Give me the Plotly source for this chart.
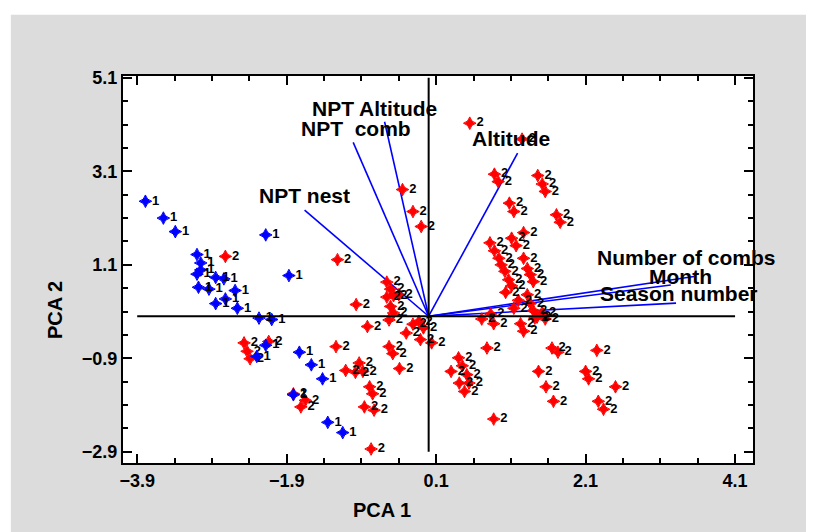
import plotly.graph_objects as go

# ---------------- data ----------------
x_ticks = [-3.9, -1.9, 0.1, 2.1, 4.1]
y_ticks = [-2.9, -0.9, 1.1, 3.1, 5.1]

group1_x = [-3.79, -3.55, -3.39, -2.18, -3.10, -3.05, -3.05, -3.10, -2.85, -2.74,
            -1.87, -3.08, -2.94, -2.59, -2.72, -2.85, -2.56, -2.27, -2.10, -2.18,
            -2.30, -1.73, -1.57, -1.42, -1.81, -1.35, -1.15]
group1_y = [2.46, 2.10, 1.81, 1.74, 1.32, 1.14, 0.99, 0.90, 0.83, 0.80,
            0.87, 0.62, 0.58, 0.55, 0.37, 0.27, 0.17, -0.04, -0.07, -0.62,
            -0.86, -0.77, -1.04, -1.34, -1.68, -2.27, -2.49]

group2_x = [-2.72, -2.47, -2.43, -2.39, -2.14, -1.81, -1.65, -1.71, -1.24, -0.82,
            -1.11, -0.93, -0.98, -0.88, -0.79, -0.75, -0.86, -0.73, -0.77, -0.53,
            -0.48, -0.39, -0.30, -0.21, -0.11, 0.04, -0.53, -0.35, -0.21, -0.10,
            -1.22, -0.97, -0.56, -0.51, -0.56, -0.47, -0.40, -0.51, -0.47, -0.13,
            -0.07, 0.40, 0.55, 1.25, 0.88, 0.93, 1.46, 1.52, 1.56, 1.08,
            1.14, 1.71, 1.76, 0.82, 1.11, 1.27, 1.17, 0.88, 0.94, 1.27,
            0.97, 1.02, 1.07, 1.11, 1.03, 1.32, 1.36, 1.40, 1.32, 1.20,
            1.14, 1.36, 1.40, 1.45, 1.52, 1.56, 0.71, 0.87, 1.23, 1.27,
            1.42, 0.78, 1.65, 1.73, 2.25, 0.30, 0.51, 0.41, 0.48, 0.45,
            0.54, 1.47, 2.10, 2.14, 2.50, 1.57, 1.67, 2.27, 2.34, 0.87,
            0.83]
group2_y = [1.28, -0.57, -0.75, -0.91, -0.54, -1.66, -1.80, -1.94, -0.65, -0.22,
            -1.16, -1.00, -1.20, -1.18, -1.51, -1.66, -1.94, -2.01, -2.84, -0.65,
            -0.80, -1.12, -0.36, -0.17, -0.50, -0.57, -0.08, 2.71, 2.24, 1.92,
            1.21, 0.25, 0.73, 0.58, 0.41, 0.44, 0.46, 0.21, 0.07, -0.11,
            -0.25, -0.89, 4.13, 3.79, 3.04, 2.88, 3.01, 2.83, 2.67, 2.42,
            2.24, 2.17, 2.01, 1.57, 1.67, 1.79, 1.51, 1.40, 1.24, 1.24,
            1.10, 0.96, 0.78, 0.65, 0.51, 1.02, 0.89, 0.74, 0.46, 0.34,
            0.17, 0.27, 0.12, -0.02, 0.08, -0.06, -0.06, -0.16, -0.16, -0.32,
            -0.04, -0.68, -0.68, -0.77, -0.73, -1.18, -1.25, -1.43, -1.61, -1.06,
            -1.43, -1.18, -1.18, -1.34, -1.51, -1.51, -1.82, -1.82, -1.99, -2.20,
            0.05]

var_names = ["NPT Altitude", "NPT\u00a0\u00a0comb", "NPT nest", "Altitude",
             "Number of combs", "Month", "Season number"]
load_x = [-0.59, -1.01, -1.66, 1.19, 3.55, 3.24, 3.31]
load_y = [4.16, 3.72, 2.27, 3.49, 0.85, 0.67, 0.28]

# label pixel offsets (style)
label_shift = [(-10, 13), (3, 14), (0, 15), (-7, 15), (-7, 19), (10, 8), (3, 10)]

BOLD = "Liberation Sans"
fig = go.Figure()

# loading vectors
for name, lx, ly in zip(var_names, load_x, load_y):
    fig.add_trace(go.Scatter(x=[0, lx], y=[0, ly], mode="lines",
                             line=dict(color="#0000ff", width=1.6),
                             hoverinfo="skip", showlegend=False))

def add_group(xs, ys, color, label):
    fig.add_trace(go.Scatter(
        x=xs, y=ys, mode="markers+text",
        marker=dict(symbol="star-diamond", size=9, color=color,
                    line=dict(width=1, color=color)),
        text=[label] * len(xs), textposition="middle right",
        textfont=dict(family=BOLD, size=13, color="black", weight="bold"),
        showlegend=False))

add_group(group2_x, group2_y, "#ff0000", "2")
add_group(group1_x, group1_y, "#0000ff", "1")

# vector labels
for name, lx, ly, (dx, dy) in zip(var_names, load_x, load_y, label_shift):
    fig.add_annotation(x=lx, y=ly, text="<b>" + name + "</b>", showarrow=False,
                       xshift=dx, yshift=dy,
                       font=dict(family=BOLD, size=21, color="black"))

# origin crosshair spanning the tick range
fig.add_shape(type="line", x0=min(x_ticks), x1=max(x_ticks), y0=0, y1=0,
              line=dict(color="black", width=2))
fig.add_shape(type="line", x0=0, x1=0, y0=min(y_ticks), y1=max(y_ticks),
              line=dict(color="black", width=2))

# thin white strips outside the gray panel
fig.add_shape(type="rect", xref="paper", yref="paper", x0=-1, x1=2, y0=1.158, y1=2,
              fillcolor="white", line=dict(width=0), layer="below")
fig.add_shape(type="rect", xref="paper", yref="paper", x0=-1, x1=-0.178, y0=-1, y1=2,
              fillcolor="white", line=dict(width=0), layer="below")

axis_common = dict(showline=True, linecolor="black", linewidth=2, mirror="ticks",
                   ticks="inside", ticklen=9, tickwidth=1.5, tickcolor="black",
                   showgrid=False, zeroline=False,
                   tickfont=dict(family="Liberation Sans Narrow, Liberation Sans",
                                 size=18, color="black", weight="bold"))

fig.update_xaxes(range=[-4.09, 4.34], tickvals=x_ticks,
                 ticktext=[f"{v:.1f}".replace("-", "\u2212") for v in x_ticks],
                 minor=dict(dtick=0.5, tick0=-3.9, ticks="inside", ticklen=5,
                            tickcolor="black", tickwidth=1.5),
                 **axis_common)
fig.update_yaxes(range=[-3.14, 5.14], tickvals=y_ticks,
                 ticktext=[f"{v:.1f}".replace("-", "\u2212") for v in y_ticks],
                 minor=dict(dtick=0.5, tick0=-2.9, ticks="inside", ticklen=5,
                            tickcolor="black", tickwidth=1.5),
                 **axis_common)

fig.add_annotation(text="<b>PCA 1</b>", xref="paper", yref="paper", x=0.411, y=-0.121,
                   showarrow=False, xanchor="center", yanchor="middle",
                   font=dict(family=BOLD, size=20, color="black"))
fig.add_annotation(text="<b>PCA 2</b>", xref="paper", yref="paper", x=-0.108, y=0.395,
                   showarrow=False, textangle=-90, xanchor="center", yanchor="middle",
                   font=dict(family=BOLD, size=20, color="black"))

fig.update_layout(width=814, height=532,
                  margin=dict(l=115, r=69, t=68, b=77),
                  paper_bgcolor="#dcdcdc", plot_bgcolor="white",
                  showlegend=False)

fig.write_html("out.html")
